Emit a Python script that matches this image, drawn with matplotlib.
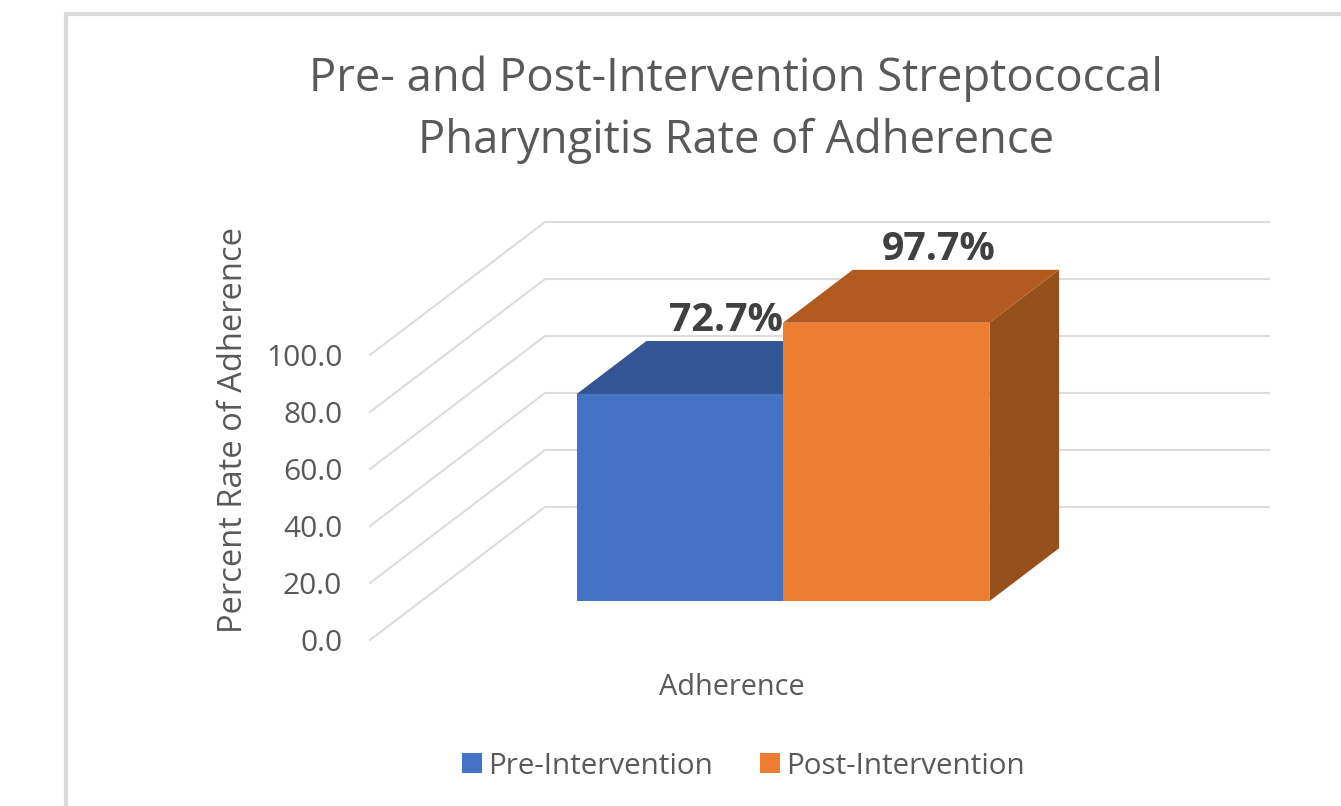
#!/usr/bin/env python3
"""Pre/post-intervention adherence chart, drawn as an Excel-style 3D column."""

import matplotlib
matplotlib.use('Agg')
import matplotlib.pyplot as plt
from matplotlib.patches import Polygon, Rectangle

TITLE = 'Pre- and Post-Intervention Streptococcal\nPharyngitis Rate of Adherence'
Y_LABEL = 'Percent Rate of Adherence'
CATEGORY = 'Adherence'
SERIES = ['Pre-Intervention', 'Post-Intervention']
VALUES = [72.7, 97.7]
VALUE_LABELS = ['72.7%', '97.7%']
Y_TICKS = [0, 20, 40, 60, 80, 100]
Y_TICK_LABELS = ['0.0', '20.0', '40.0', '60.0', '80.0', '100.0']

W, H = 1341, 806
FRONT = ['#4472c4', '#ed7d31']
TOP = ['#335593', '#b25b20']
SIDE = ['#2a4a85', '#95501c']
GRID = '#dcdcdc'
TEXT = '#595959'
FONT = 'Open Sans'

plt.rcParams['font.family'] = [FONT, 'DejaVu Sans']

# oblique projection: how far the back wall is shifted (axis units)
PX_X = 1 / 724.0          # one pixel in x data units
PX_Y = 100 / 285.0        # one pixel in value units
WALL_DX, WALL_DY = 175 * PX_X, 133 * PX_Y
BAR_FRONT, BAR_BACK = 0.292, 0.69
BAR_W = 0.285
LABEL_DX = [-0.033, -0.024]   # labels are nudged left of the top face centre


def shift(x, v, depth):
    return x + WALL_DX * depth, v + WALL_DY * depth


def main():
    fig = plt.figure(figsize=(W / 100, H / 100), dpi=100, facecolor='white')
    fig.add_artist(Rectangle((66 / W, -0.02), 1.1, 1 - 14 / H + 0.02,
                             transform=fig.transFigure, fc='white',
                             ec='#d9d9d9', lw=3, zorder=-1))

    ax = fig.add_axes([370 / W, 1 - 640 / H, 724 / W, 285 / H])
    ax.patch.set_alpha(0)
    ax.set_xlim(-0.5, 0.5)
    ax.set_ylim(0, 100)
    for s in ax.spines.values():
        s.set_visible(False)

    ax.set_yticks(Y_TICKS)
    ax.set_yticklabels(Y_TICK_LABELS, fontsize=21.5, color=TEXT)
    ax.set_xticks([0])
    ax.set_xticklabels([CATEGORY], fontsize=20.8, color=TEXT)
    ax.tick_params(length=0)
    ax.tick_params(axis='y', pad=20)
    ax.tick_params(axis='x', pad=24)

    # gridlines: floor/side wall diagonal, then along the back wall
    for v in Y_TICKS:
        bx, by = shift(-0.5, v, 1)
        ex, ey = shift(0.5, v, 1)
        ax.plot([-0.5, bx, ex], [v, by, ey], color=GRID, lw=1.5, clip_on=False,
                zorder=1)

    # columns, left one first so the right one covers it
    handles = []
    for i, (val, name) in enumerate(zip(VALUES, SERIES)):
        x0 = -BAR_W + i * BAR_W
        x1 = x0 + BAR_W
        fx0, fy0 = shift(x0, 0, BAR_FRONT)
        _, fyt = shift(x0, val, BAR_FRONT)
        side = [shift(x1, 0, BAR_FRONT), shift(x1, 0, BAR_BACK),
                shift(x1, val, BAR_BACK), shift(x1, val, BAR_FRONT)]
        top = [shift(x0, val, BAR_FRONT), shift(x0, val, BAR_BACK),
               shift(x1, val, BAR_BACK), shift(x1, val, BAR_FRONT)]
        z = 3 + i
        ax.add_patch(Polygon(side, fc=SIDE[i], ec='none', clip_on=False, zorder=z))
        ax.add_patch(Polygon(top, fc=TOP[i], ec='none', clip_on=False, zorder=z))
        bars = ax.bar(fx0, fyt - fy0, BAR_W, bottom=fy0, align='edge',
                      color=FRONT[i], label=name, clip_on=False, zorder=z + 0.5)
        handles.append(bars)

    # value labels sit just above the back edge of each top face
    for i, (val, lab) in enumerate(zip(VALUES, VALUE_LABELS)):
        xc = -BAR_W + (i + 0.5) * BAR_W
        x, y = shift(xc, val, BAR_BACK)
        ax.text(x + LABEL_DX[i], y + 0.3, lab, ha='center', va='bottom',
                fontsize=28.3, fontweight='bold', color='#404040', clip_on=False,
                zorder=10)

    fig.text(736 / W, 1 - 110 / H, TITLE, ha='center', va='center', fontsize=32.65,
             color=TEXT, linespacing=1.45)
    fig.text(233 / W, 1 - 430 / H, Y_LABEL, rotation=90, ha='center', va='center',
             fontsize=23.5, color=TEXT)

    fig.legend(handles=handles, loc='center', ncol=2,
               bbox_to_anchor=(743 / W, 1 - 766 / H), frameon=False, fontsize=21.3,
               labelcolor=TEXT, handlelength=0.68, handleheight=0.68,
               handletextpad=0.2, columnspacing=1.6)

    fig.savefig('out.png', dpi=100)
    plt.close(fig)


if __name__ == '__main__':
    main()
